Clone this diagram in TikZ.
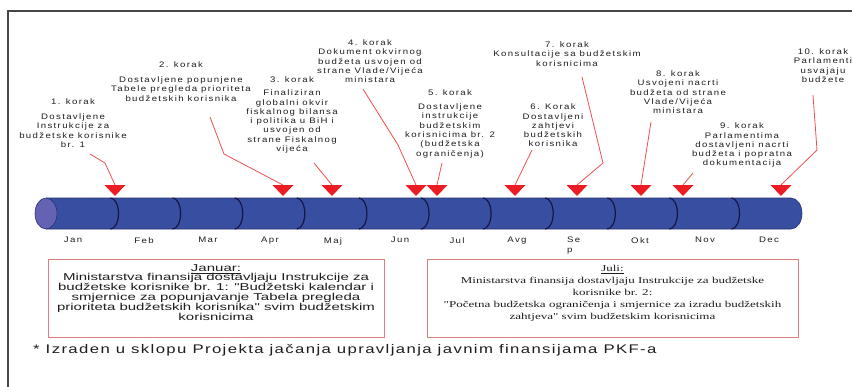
\documentclass[tikz,border=0pt]{standalone}
\usepackage{fontspec}
\setmainfont{Liberation Sans}
\newfontfamily\stepfont{Liberation Sans}[FakeStretch=1.2,LetterSpace=17]
\newfontfamily\janfont{Liberation Sans}[FakeStretch=1.5]
\newfontfamily\julfont{Liberation Serif}[FakeStretch=1.45]
\newfontfamily\notefont{Liberation Sans}[FakeStretch=1.34,LetterSpace=11]
\definecolor{cylc}{RGB}{56,78,160}
\definecolor{capc}{RGB}{100,98,178}
\definecolor{cylline}{RGB}{40,48,115}
\definecolor{divc}{RGB}{22,22,70}
\definecolor{trired}{RGB}{235,28,36}
\definecolor{leadc}{RGB}{240,80,80}
\definecolor{boxc}{RGB}{222,125,125}
\definecolor{framec}{RGB}{70,70,70}
\definecolor{txt}{RGB}{30,30,30}
\begin{document}
\begin{tikzpicture}[x=1pt,y=-1pt,
  steplbl/.style={font=\stepfont\fontsize{8}{9.3}\selectfont, align=center, inner sep=0pt, anchor=north, text=txt},
  monthlbl/.style={font=\stepfont\fontsize{8}{9.3}\selectfont, align=center, inner sep=0pt, anchor=north, text=txt},
  leader/.style={draw=leadc, line width=0.8pt},
  tri/.style={fill=trired},
  divider/.style={draw=divc, line width=1.2pt},
  infobox/.style={draw=boxc, line width=1pt, inner sep=0pt},
]
\useasboundingbox (0,0) rectangle (852,386);
\fill[white] (0,0) rectangle (852,386);
% frame
\draw[framec, line width=1.4pt] (8,392) -- (8,11) -- (858,11);

% cylinder
\fill[cylc] (46,198) -- (791,198) arc[start angle=90,end angle=-90,x radius=11pt,y radius=15.5pt] -- (46,229) -- cycle;
\draw[cylline, line width=0.6pt] (46,198) -- (791,198) arc[start angle=90,end angle=-90,x radius=11pt,y radius=15.5pt] -- (46,229);
\foreach \i in {0,...,10}{
  \draw[divider] ({110.5+62.1*\i},198) arc[start angle=90,end angle=-90,x radius=8pt,y radius=15.5pt];
}
\filldraw[fill=capc, draw=cylline, line width=0.6pt] (46,213.5) ellipse [x radius=11pt, y radius=15.5pt];

% months
\node[monthlbl] (m1) at (73,237) {Jan};
\node[monthlbl] (m2) at (144,237) {Feb};
\node[monthlbl] (m3) at (208,237) {Mar};
\node[monthlbl] (m4) at (270,237) {Apr};
\node[monthlbl] (m5) at (333,237) {Maj};
\node[monthlbl] (m6) at (400,237) {Jun};
\node[monthlbl] (m7) at (457,237) {Jul};
\node[monthlbl] (m8) at (517,237) {Avg};
\node[monthlbl, align=left, anchor=north west] (m9) at (567,237) {Se\\p};
\node[monthlbl] (m10) at (640,237) {Okt};
\node[monthlbl] (m11) at (705,237) {Nov};
\node[monthlbl] (m12) at (769,237) {Dec};

% step labels
\node[steplbl] (s1) at (73,98.7) {1. korak\\[5.5pt]Dostavljene\\Instrukcije za\\budžetske korisnike\\br. 1};
\node[steplbl] (s2) at (181,61.7) {2. korak\\[5.5pt]Dostavljene popunjene\\Tabele pregleda prioriteta\\budžetskih korisnika};
\node[steplbl] (s3) at (292,76.7) {3. korak\\[3.7pt]Finaliziran\\globalni okvir\\fiskalnog bilansa\\i politika u BiH i\\usvojen od\\strane Fiskalnog\\vijeća};
\node[steplbl] (s4) at (370,39.7) {4. korak\\Dokument okvirnog\\budžeta usvojen od\\strane Vlade/Vijeća\\ministara};
\node[steplbl] (s5) at (450,89.7) {5. korak\\[4.5pt]Dostavljene\\instrukcije\\budžetskim\\korisnicima br. 2\\(budžetska\\ograničenja)};
\node[steplbl] (s6) at (553,103.7) {6. Korak\\Dostavljeni\\zahtjevi\\budžetskih\\korisnika};
\node[steplbl] (s7) at (567,41.7) {7. korak\\Konsultacije sa budžetskim\\korisnicima};
\node[steplbl] (s8) at (678,70.7) {8. korak\\Usvojeni nacrti\\budžeta od strane\\Vlade/Vijeća\\ministara};
\node[steplbl] (s9) at (742,122.7) {9. korak\\Parlamentima\\dostavljeni nacrti\\budžeta i popratna\\dokumentacija};
\node[steplbl] (s10) at (823,48.7) {10. korak\\Parlamenti\\usvajaju\\budžete};

% triangle anchors
\coordinate (T1) at (115,185);
\coordinate (T2) at (283,185);
\coordinate (T3) at (332,185);
\coordinate (T4) at (416,185);
\coordinate (T5) at (437,185);
\coordinate (T6) at (515,185);
\coordinate (T7) at (577,185);
\coordinate (T8) at (641,185);
\coordinate (T9) at (683,185);
\coordinate (T10) at (781,185);

% leader start/bend points
\coordinate (L1a) at (90,154);  \coordinate (L1b) at (105,163);
\coordinate (L2a) at (210,117); \coordinate (L2b) at (224,154);
\coordinate (L3a) at (314,163);
\coordinate (L4a) at (363,89);  \coordinate (L4b) at (398,145);
\coordinate (L5a) at (442,163);
\coordinate (L6a) at (532,150);
\coordinate (L7a) at (582,77);  \coordinate (L7b) at (603,163);
\coordinate (L8a) at (651,122);
\coordinate (L9a) at (693,173);
\coordinate (L10a) at (813,95); \coordinate (L10b) at (817,150);

\draw[leader] (L1a) -- (L1b) -- (T1);
\draw[leader] (L2a) -- (L2b) -- (T2);
\draw[leader] (L3a) -- (T3);
\draw[leader] (L4a) -- (L4b) -- (T4);
\draw[leader] (L5a) -- (T5);
\draw[leader] (L6a) -- (T6);
\draw[leader] (L7a) -- (L7b) -- (T7);
\draw[leader] (L8a) -- (T8);
\draw[leader] (L9a) -- (T9);
\draw[leader] (L10a) -- (L10b) -- (T10);

\foreach \t in {T1,T2,T3,T4,T5,T6,T7,T8,T9,T10}{
  \fill[tri] (\t) ++(-10.5,0) -- ++(21,0) -- ++(-10.5,11) -- cycle;
}

% info boxes
\node[infobox, minimum width=336pt, minimum height=78pt] (jan) at (216,298) {};
\node[font=\janfont\fontsize{10}{10}\selectfont, align=center, inner sep=0pt, anchor=north, text=txt] (jantext) at (216,264.5)
  {\underline{Januar:}\\[-1pt]Ministarstva finansija dostavljaju Instrukcije za\\budžetske korisnike br. 1: "Budžetski kalendar i\\smjernice za popunjavanje Tabela pregleda\\prioriteta budžetskih korisnika" svim budžetskim\\korisnicima};
\node[infobox, minimum width=371pt, minimum height=78pt] (jul) at (612.5,298) {};
\node[font=\julfont\fontsize{9}{11.8}\selectfont, align=center, inner sep=0pt, anchor=north, text=txt] (jultext) at (612.5,265.5)
  {\underline{Juli:}\\Ministarstva finansija dostavljaju Instrukcije za budžetske\\korisnike br. 2:\\"Početna budžetska ograničenja i smjernice za izradu budžetskih\\zahtjeva" svim budžetskim korisnicima};

% footnote
\node[font=\notefont\fontsize{12.5}{14}\selectfont, inner sep=0pt, anchor=base west, text=txt] (note) at (33,353)
  {* Izraden u sklopu Projekta jačanja upravljanja javnim finansijama PKF-a};
\end{tikzpicture}
\end{document}
